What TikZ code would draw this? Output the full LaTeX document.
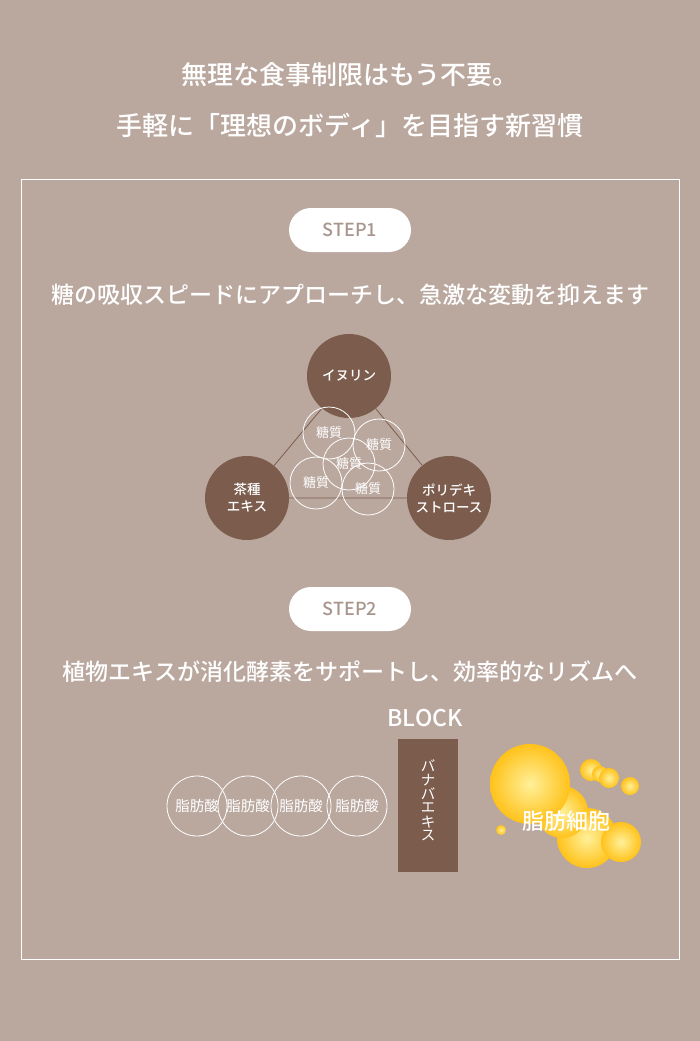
\documentclass[tikz,border=0pt]{standalone}
\usepackage{fontspec}
\setmainfont{Noto Sans CJK JP}[BoldFont={Noto Sans CJK JP Medium}]
\definecolor{bgtaupe}{HTML}{BAA89F}
\definecolor{cocoa}{HTML}{7B5C4D}
\definecolor{pilltxt}{HTML}{A8968D}
\definecolor{fatlight}{HTML}{FFF09A}
\definecolor{fatdeep}{HTML}{FFC21A}
\tikzset{
  ingr/.style={circle, fill=cocoa, minimum size=84pt, inner sep=0pt, text=white, font=\bfseries\fontsize{13.5}{17}\selectfont, align=center},
  sugar/.style={circle, draw=white, line width=0.8pt, minimum size=52pt, inner sep=0pt, text=white, font=\fontsize{13}{14}\selectfont},
  acid/.style={circle, draw=white, line width=0.8pt, minimum size=60pt, inner sep=0pt, text=white, font=\fontsize{14.5}{15}\selectfont},
  pill/.style={rounded corners=22pt, fill=white, minimum width=122pt, minimum height=44pt, text=pilltxt, font=\bfseries\fontsize{18}{20}\selectfont},
  headline/.style={text=white, font=\bfseries\fontsize{23}{26}\selectfont},
  fatball/.style={inner color=fatlight, outer color=fatdeep},
}
\begin{document}
\begin{tikzpicture}[x=1pt, y=-1pt]
  \fill[bgtaupe] (0,0) rectangle (700,1041);
  \useasboundingbox (0,0) rectangle (700,1041);
  \draw[white, line width=0.8pt] (21,179) rectangle (679,959);

  \node[text=white, font=\bfseries\fontsize{26}{28}\selectfont] (title1) at (350,75) {無理な食事制限はもう不要。};
  \node[text=white, font=\bfseries\fontsize{26}{28}\selectfont] (title2) at (350,125) {手軽に「理想のボディ」を目指す新習慣};

  % step 1
  \node[pill] (step1) at (350,230) {STEP1};
  \node[headline] (head1) at (350,295) {糖の吸収スピードにアプローチし、急激な変動を抑えます};

  \node[ingr] (inulin) at (349,376) {イヌリン};
  \node[ingr] (tea) at (247,498) {茶種\\エキス};
  \node[ingr] (poly) at (449,498) {ポリデキ\\ストロース};
  \draw[cocoa, line width=0.8pt] (inulin) -- (tea) -- (poly) -- (inulin);

  \node[sugar] (s1) at (329,433) {糖質};
  \node[sugar] (s2) at (379,445) {糖質};
  \node[sugar] (s4) at (316,483) {糖質};
  \node[sugar] (s5) at (368,489) {糖質};
  \node[sugar] (s3) at (349,464) {糖質};

  % step 2
  \node[pill] (step2) at (350,609) {STEP2};
  \node[headline] (head2) at (350,672) {植物エキスが消化酵素をサポートし、効率的なリズムへ};

  \node[text=white, font=\bfseries\fontsize{23}{26}\selectfont] (block) at (425,718) {BLOCK};
  \fill[cocoa] (398,739) rectangle (458,872);
  \foreach \ch [count=\i] in {バ,ナ,バ,エ,キ,ス}
    \node[text=white, font=\fontsize{14.5}{16}\selectfont] (k\i) at (428,752+\i*14) {\ch};

  \foreach \x [count=\i] in {197,248,301,357}
    \node[acid] (fa\i) at (\x,806) {脂肪酸};

  % fat cell
  \shade[fatball] (587,838) circle (30);
  \shade[fatball] (621,842) circle (20);
  \shade[fatball] (562,812) circle (26);
  \shade[fatball] (530,784) circle (40);
  \shade[fatball] (591,770) circle (11);
  \shade[fatball] (600,774) circle (8);
  \shade[fatball] (609,778) circle (10);
  \shade[fatball] (630,786) circle (9);
  \shade[fatball] (501,830) circle (5);
  \node[text=white, font=\bfseries\fontsize{22}{24}\selectfont] (fatcell) at (566,821) {脂肪細胞};
\end{tikzpicture}
\end{document}
